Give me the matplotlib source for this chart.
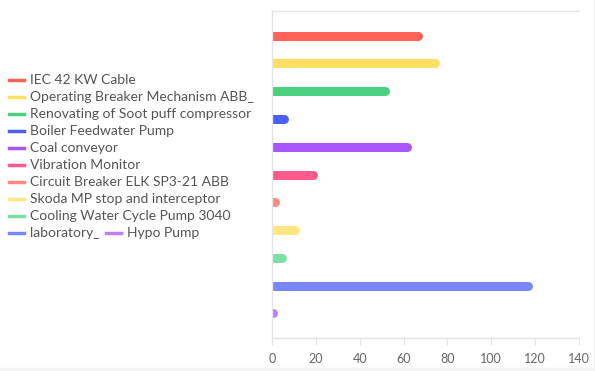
import matplotlib.pyplot as plt
from matplotlib.lines import Line2D
from matplotlib.patches import Rectangle

plt.rcParams['font.family'] = ['Lato', 'DejaVu Sans']

# data
labels = ['IEC 42 KW Cable', 'Operating Breaker Mechanism ABB_',
          'Renovating of Soot puff compressor', 'Boiler Feedwater Pump',
          'Coal conveyor', 'Vibration Monitor', 'Circuit Breaker ELK SP3-21 ABB',
          'Skoda MP stop and interceptor', 'Cooling Water Cycle Pump 3040',
          'laboratory_', 'Hypo Pump']
values = [68, 76, 53, 7, 63, 20, 3, 12, 6, 118, 2]
colors = ['#ff6257', '#ffdf63', '#4bd07f', '#4a5ff7', '#a855fb', '#ff5a8e',
          '#ff8a7a', '#ffe680', '#7ae0a3', '#7888fb', '#c27cf7']
xticks = [0, 20, 40, 60, 80, 100, 120, 140]

W, H = 595, 371
fig = plt.figure(figsize=(W / 100, H / 100), dpi=100)
ax = fig.add_axes([272 / W, 1 - 338 / H, (579 - 272) / W, (338 - 11) / H])

xmax = 140
bar_px = 9
r = (bar_px / 2) * xmax / (579 - 272)  # cap radius in data units
lw = bar_px * 72 / 100
for i, (v, c) in enumerate(zip(values, colors)):
    # round end sits at the value, left end hidden under the axis
    end = max(v + 0.6 - r, 0)
    ax.plot([-r * 2, end], [i, i], color=c, lw=lw,
             solid_capstyle='round', clip_on=True)

ax.set_xlim(0, xmax)
ax.set_ylim(len(values) - 1 + 0.89, -0.89)
ax.set_xticks(xticks)
ax.set_yticks([])
ax.tick_params(axis='x', length=5, color='#e4e4e4', labelcolor='#666666',
               labelsize=9, pad=6)
for s in ['left', 'top', 'bottom']:
    ax.spines[s].set_color('#e4e4e4')
    ax.spines[s].set_linewidth(1)
ax.spines['right'].set_visible(False)

# legend drawn by hand (last row holds two items)
row_y = [80 + 17.04 * k for k in range(10)] + [80 + 17.04 * 9]
mark_x = [9] * 10 + [106]
text_x = [30] * 10 + [127]
for lab, c, y, mx, tx in zip(labels, colors, row_y, mark_x, text_x):
    fig.add_artist(Line2D([mx / W, (mx + 15) / W], [1 - y / H, 1 - y / H],
                          color=c, lw=2.5, transform=fig.transFigure))
    fig.text(tx / W, 1 - y / H, lab, fontsize=10, color='#555555',
             va='center', ha='left')

# light frame strips on right and bottom
fig.add_artist(Rectangle((594 / W, 0), 1 / W, 1, color='#eeeeee',
                         transform=fig.transFigure))
fig.add_artist(Rectangle((0, 0), 1, 3 / H, color='#f3f3f3',
                         transform=fig.transFigure))

fig.savefig('out.png', dpi=100)
